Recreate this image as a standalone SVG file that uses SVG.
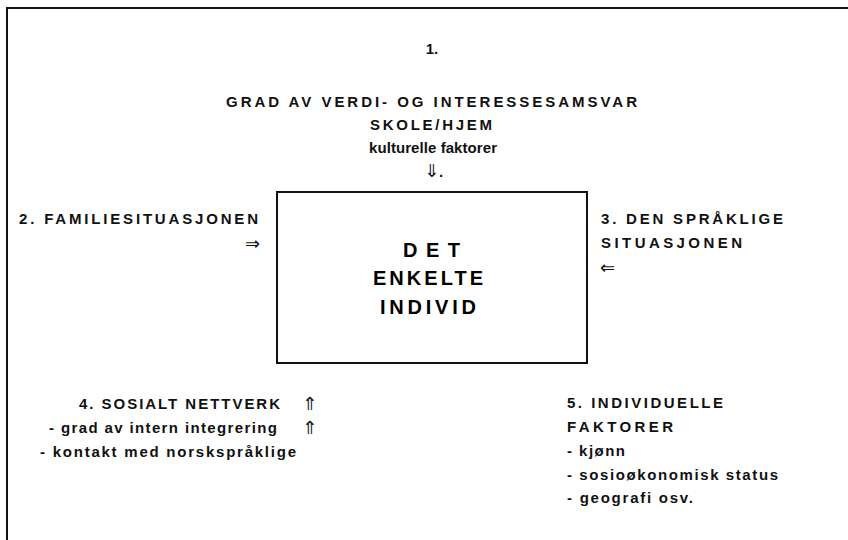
<svg xmlns="http://www.w3.org/2000/svg" width="848" height="540" viewBox="0 0 848 540">
<style>
text{font-family:"Liberation Sans",Arial,"DejaVu Sans",sans-serif;font-size:15px;font-weight:bold;fill:#111}
.c{text-anchor:middle}
.e{text-anchor:end}
.big{font-size:20px;font-weight:bold;fill:#000}
.arr{font-family:"DejaVu Sans","Liberation Sans",sans-serif;font-size:18px;font-weight:normal}
.frame{stroke:#111;stroke-width:2;fill:none}
</style>
<rect width="848" height="540" fill="#fff"/>
<path class="frame" d="M7,541 V8 H849"/>
<g id="node-1">
<text class="c" x="432" y="54">1.</text>
<text x="226" y="107" textLength="411" lengthAdjust="spacing">GRAD AV VERDI- OG INTERESSESAMSVAR</text>
<text x="370" y="130" textLength="122" lengthAdjust="spacing">SKOLE/HJEM</text>
<text x="369" y="153" textLength="128" lengthAdjust="spacing">kulturelle faktorer</text>
</g>
<g id="node-center">
<rect x="277" y="192" width="310" height="171" fill="#fff" stroke="#111" stroke-width="2"/>
<text class="big" x="403" y="257" textLength="57" lengthAdjust="spacing">DET</text>
<text class="big" x="373" y="285" textLength="110" lengthAdjust="spacing">ENKELTE</text>
<text class="big" x="380" y="314" textLength="96" lengthAdjust="spacing">INDIVID</text>
</g>
<g id="node-2">
<text x="19" y="224" textLength="239" lengthAdjust="spacing">2. FAMILIESITUASJONEN</text>
</g>
<g id="node-3">
<text x="601" y="224" textLength="182" lengthAdjust="spacing">3. DEN SPRÅKLIGE</text>
<text x="601" y="248" textLength="141" lengthAdjust="spacing">SITUASJONEN</text>
</g>
<g id="node-4">
<text x="79" y="409" textLength="201" lengthAdjust="spacing">4. SOSIALT NETTVERK</text>
<text x="49" y="433" textLength="228" lengthAdjust="spacing">- grad av intern integrering</text>
<text x="40" y="457" textLength="256" lengthAdjust="spacing">- kontakt med norskspråklige</text>
</g>
<g id="node-5">
<text x="567" y="408" textLength="156" lengthAdjust="spacing">5. INDIVIDUELLE</text>
<text x="567" y="432" textLength="106" lengthAdjust="spacing">FAKTORER</text>
<text x="567" y="456" textLength="58" lengthAdjust="spacing">- kjønn</text>
<text x="567" y="480" textLength="211" lengthAdjust="spacing">- sosioøkonomisk status</text>
<text x="567" y="503" textLength="126" lengthAdjust="spacing">- geografi osv.</text>
</g>
<g id="connectors">
<text class="arr" x="424" y="177">⇓<tspan style="font-family:'Liberation Sans',sans-serif;font-size:15px;font-weight:bold">.</tspan></text>
<text class="arr e" x="260" y="250">⇒</text>
<text class="arr" x="600" y="274">⇐</text>
<text class="arr" x="302" y="410">⇑</text>
<text class="arr" x="302" y="434">⇑</text>
</g>
</svg>
